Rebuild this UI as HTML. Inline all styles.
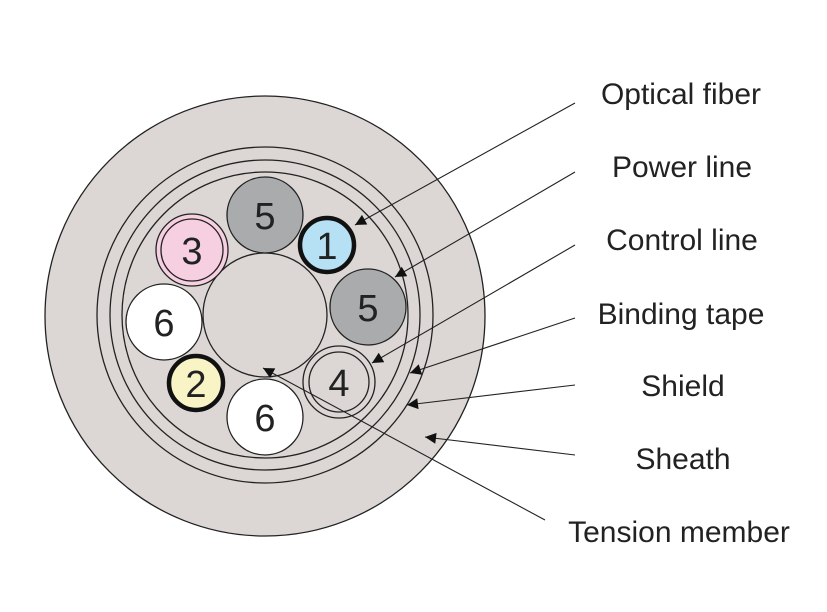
<!DOCTYPE html>
<html><head><meta charset="utf-8"><style>
html,body{margin:0;padding:0;background:#fff;}
svg{display:block;}
text{font-family:"Liberation Sans",sans-serif;}
</style></head><body>
<svg width="827" height="612" viewBox="0 0 827 612" xmlns="http://www.w3.org/2000/svg">
<defs>
<marker id="a" viewBox="0 0 10 10" refX="10" refY="5" markerWidth="18" markerHeight="11" markerUnits="userSpaceOnUse" orient="auto">
<path d="M0,0 L10,5 L0,10 Z" fill="#111"/>
</marker>
</defs>
<g stroke="#222" stroke-width="1.3" fill="#dcd7d5">
<circle cx="265" cy="316" r="220"/>
<circle cx="265" cy="315" r="168" fill="none"/>
<circle cx="265" cy="315" r="155" fill="none"/>
<circle cx="265" cy="315" r="143" fill="none"/>
<circle cx="265" cy="315" r="62"/>
<circle cx="265" cy="215" r="38" fill="#a9abad"/>
<circle cx="368" cy="307" r="38" fill="#a9abad"/>
<circle cx="265" cy="417" r="38" fill="#fff"/>
<circle cx="164" cy="322" r="38" fill="#fff"/>
<circle cx="192" cy="250" r="36" fill="#f6cfe0"/>
<circle cx="192" cy="250" r="31" fill="none"/>
<circle cx="339" cy="382" r="36" fill="#dcd7d5"/>
<circle cx="339" cy="382" r="30" fill="none"/>
<circle cx="327" cy="245" r="27" fill="#b6e0f3" stroke="#111" stroke-width="4.5"/>
<circle cx="196" cy="383" r="27" fill="#f8f4c6" stroke="#111" stroke-width="4.5"/>
</g>
<g font-size="38" fill="#222" text-anchor="middle">
<text x="265" y="229">5</text>
<text x="327" y="259">1</text>
<text x="368" y="321">5</text>
<text x="192" y="264">3</text>
<text x="164" y="336">6</text>
<text x="196" y="397">2</text>
<text x="339" y="396">4</text>
<text x="265" y="431">6</text>
</g>
<g stroke="#222" stroke-width="1.1" marker-end="url(#a)">
<line x1="575" y1="103" x2="355" y2="225"/>
<line x1="575" y1="172" x2="395" y2="277"/>
<line x1="575" y1="245" x2="372" y2="363"/>
<line x1="575" y1="318" x2="410" y2="373"/>
<line x1="575" y1="385" x2="407" y2="405"/>
<line x1="575" y1="455" x2="425" y2="437"/>
<line x1="545" y1="520" x2="263" y2="368"/>
</g>
<g font-size="30" fill="#222" text-anchor="middle">
<text x="681" y="104">Optical fiber</text>
<text x="682" y="177">Power line</text>
<text x="682" y="250">Control line</text>
<text x="681" y="324">Binding tape</text>
<text x="683" y="396">Shield</text>
<text x="683" y="469">Sheath</text>
<text x="679" y="542">Tension member</text>
</g>
</svg>
</body></html>
